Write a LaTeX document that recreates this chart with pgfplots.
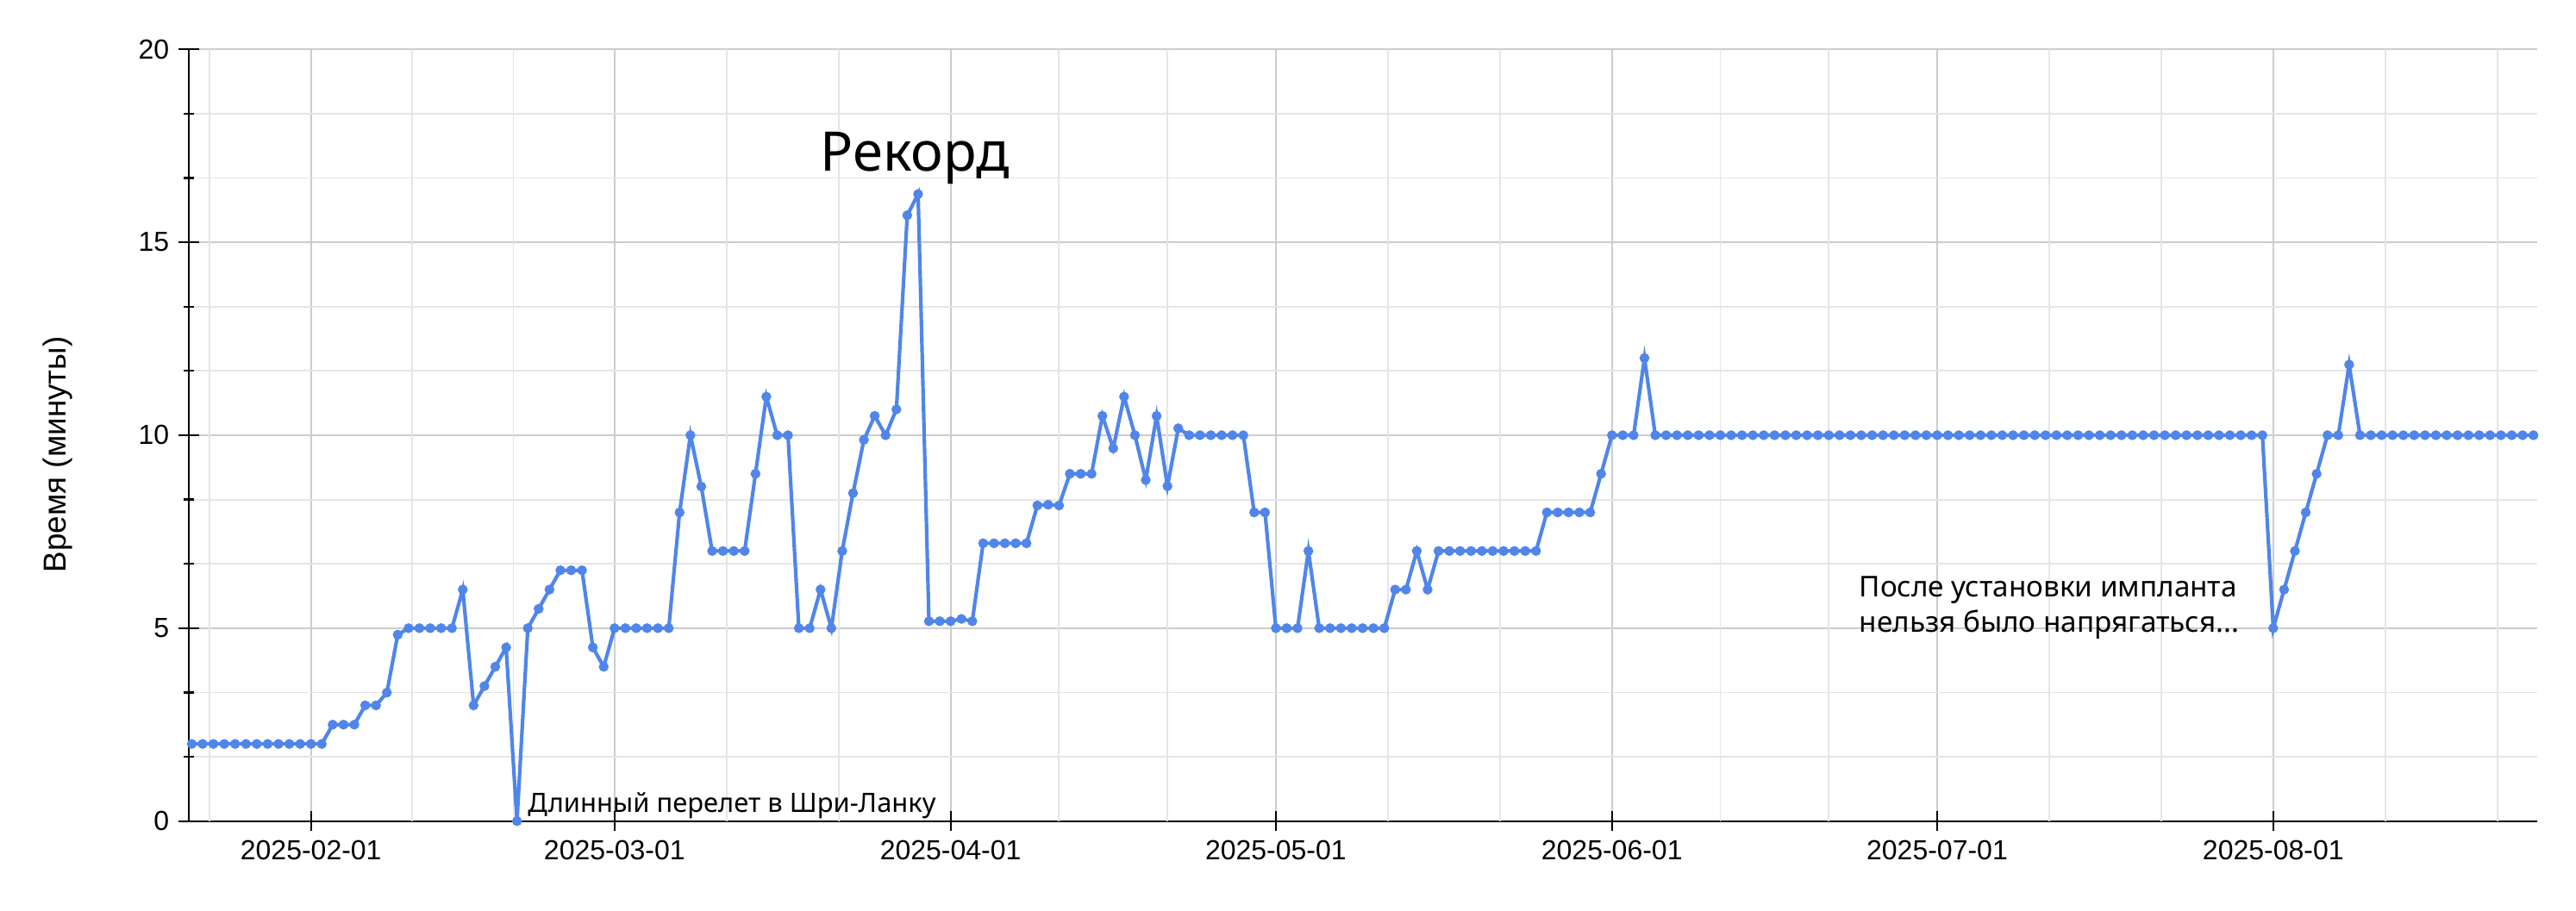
\documentclass[border=0pt]{standalone}
\usepackage{fontspec}
\setmainfont{Liberation Sans}
\newfontfamily\notosans{Noto Sans}
\usepackage{pgfplots}
\pgfplotsset{compat=1.18}
\definecolor{series}{RGB}{80,133,234}
\definecolor{gridmajor}{RGB}{204,204,204}
\definecolor{gridminor}{RGB}{229,229,229}
\begin{document}
\begin{tikzpicture}
\useasboundingbox (-68.44pt,-32.28pt) rectangle (865.31pt,297.72pt);
\begin{axis}[
  at={(0,0)}, anchor=south west,
  scale only axis, width=851.25pt, height=279.84pt,
  xmin=19.73, xmax=236.35, ymin=0, ymax=20,
  axis lines*=left,
  axis line style={black, line width=0.7pt},
  xtick={31,59,90,120,151,181,212},
  xticklabels={2025-02-01,2025-03-01,2025-04-01,2025-05-01,2025-06-01,2025-07-01,2025-08-01},
  ytick={0,5,10,15,20},
  minor ytick={1.6667,3.3333,6.6667,8.3333,11.6667,13.3333,16.6667,18.3333},
  xmajorgrids, ymajorgrids, yminorgrids,
  major grid style={gridmajor, line width=0.6pt},
  minor grid style={gridminor, line width=0.6pt},
  extra x ticks={21.67,40.33,49.67,69.33,79.67,100,110,130.33,140.67,161,171,191.33,201.67,222.33,232.67},
  extra x tick labels={},
  extra x tick style={major tick length=0pt, major grid style={gridminor, line width=0.6pt}},
  major tick length=7.2pt, minor tick length=3.75pt, tick align=center,
  tick style={black, line width=0.7pt},
  ticklabel style={font=\fontsize{10}{12}\selectfont},
  /pgf/number format/assume math mode=true,
  ylabel={Время (минуты)},
  ylabel style={at={(axis description cs:-0.0558,0.475)}, anchor=center, font=\fontsize{11.5}{14}\selectfont},
]
\addplot[color=series, line width=1.3pt, mark=*, mark size=1.1pt, mark options={draw=none, fill=series}] table {
d v
20 2
21 2
22 2
23 2
24 2
25 2
26 2
27 2
28 2
29 2
30 2
31 2
32 2
33 2.5
34 2.5
35 2.5
36 3
37 3
38 3.33
39 4.83
40 5
41 5
42 5
43 5
44 5
45 6
46 3
47 3.5
48 4
49 4.5
50 0
51 5
52 5.5
53 6
54 6.5
55 6.5
56 6.5
57 4.5
58 4
59 5
60 5
61 5
62 5
63 5
64 5
65 8
66 10
67 8.67
68 7
69 7
70 7
71 7
72 9
73 11
74 10
75 10
76 5
77 5
78 6
79 5
80 7
81 8.5
82 9.88
83 10.5
84 10
85 10.67
86 15.7
87 16.25
88 5.18
89 5.18
90 5.18
91 5.24
92 5.18
93 7.2
94 7.2
95 7.2
96 7.2
97 7.2
98 8.18
99 8.2
100 8.18
101 9
102 9
103 9
104 10.5
105 9.66
106 11
107 10
108 8.84
109 10.5
110 8.68
111 10.18
112 10
113 10
114 10
115 10
116 10
117 10
118 8
119 8
120 5
121 5
122 5
123 7
124 5
125 5
126 5
127 5
128 5
129 5
130 5
131 6
132 6
133 7
134 6
135 7
136 7
137 7
138 7
139 7
140 7
141 7
142 7
143 7
144 7
145 8
146 8
147 8
148 8
149 8
150 9
151 10
152 10
153 10
154 12
155 10
156 10
157 10
158 10
159 10
160 10
161 10
162 10
163 10
164 10
165 10
166 10
167 10
168 10
169 10
170 10
171 10
172 10
173 10
174 10
175 10
176 10
177 10
178 10
179 10
180 10
181 10
182 10
183 10
184 10
185 10
186 10
187 10
188 10
189 10
190 10
191 10
192 10
193 10
194 10
195 10
196 10
197 10
198 10
199 10
200 10
201 10
202 10
203 10
204 10
205 10
206 10
207 10
208 10
209 10
210 10
211 10
212 5
213 6
214 7
215 8
216 9
217 10
218 10
219 11.83
220 10
221 10
222 10
223 10
224 10
225 10
226 10
227 10
228 10
229 10
230 10
231 10
232 10
233 10
234 10
235 10
236 10
};
\node[anchor=base, inner sep=0pt, font=\notosans\fontsize{19.8}{23}\selectfont] at (axis cs:86.7,16.85) {Рекорд};
\node[anchor=base west, inner sep=0pt, font=\notosans\fontsize{9.65}{12}\selectfont] at (axis cs:50.96,0.23) {Длинный перелет в Шри-Ланку};
\node[anchor=base west, inner sep=0pt, font=\notosans\fontsize{10.4}{12}\selectfont] at (axis cs:173.77,5.82) {После установки импланта};
\node[anchor=base west, inner sep=0pt, font=\notosans\fontsize{10.4}{12}\selectfont] at (axis cs:173.77,4.907) {нельзя было напрягаться...};
\end{axis}
\end{tikzpicture}
\end{document}
